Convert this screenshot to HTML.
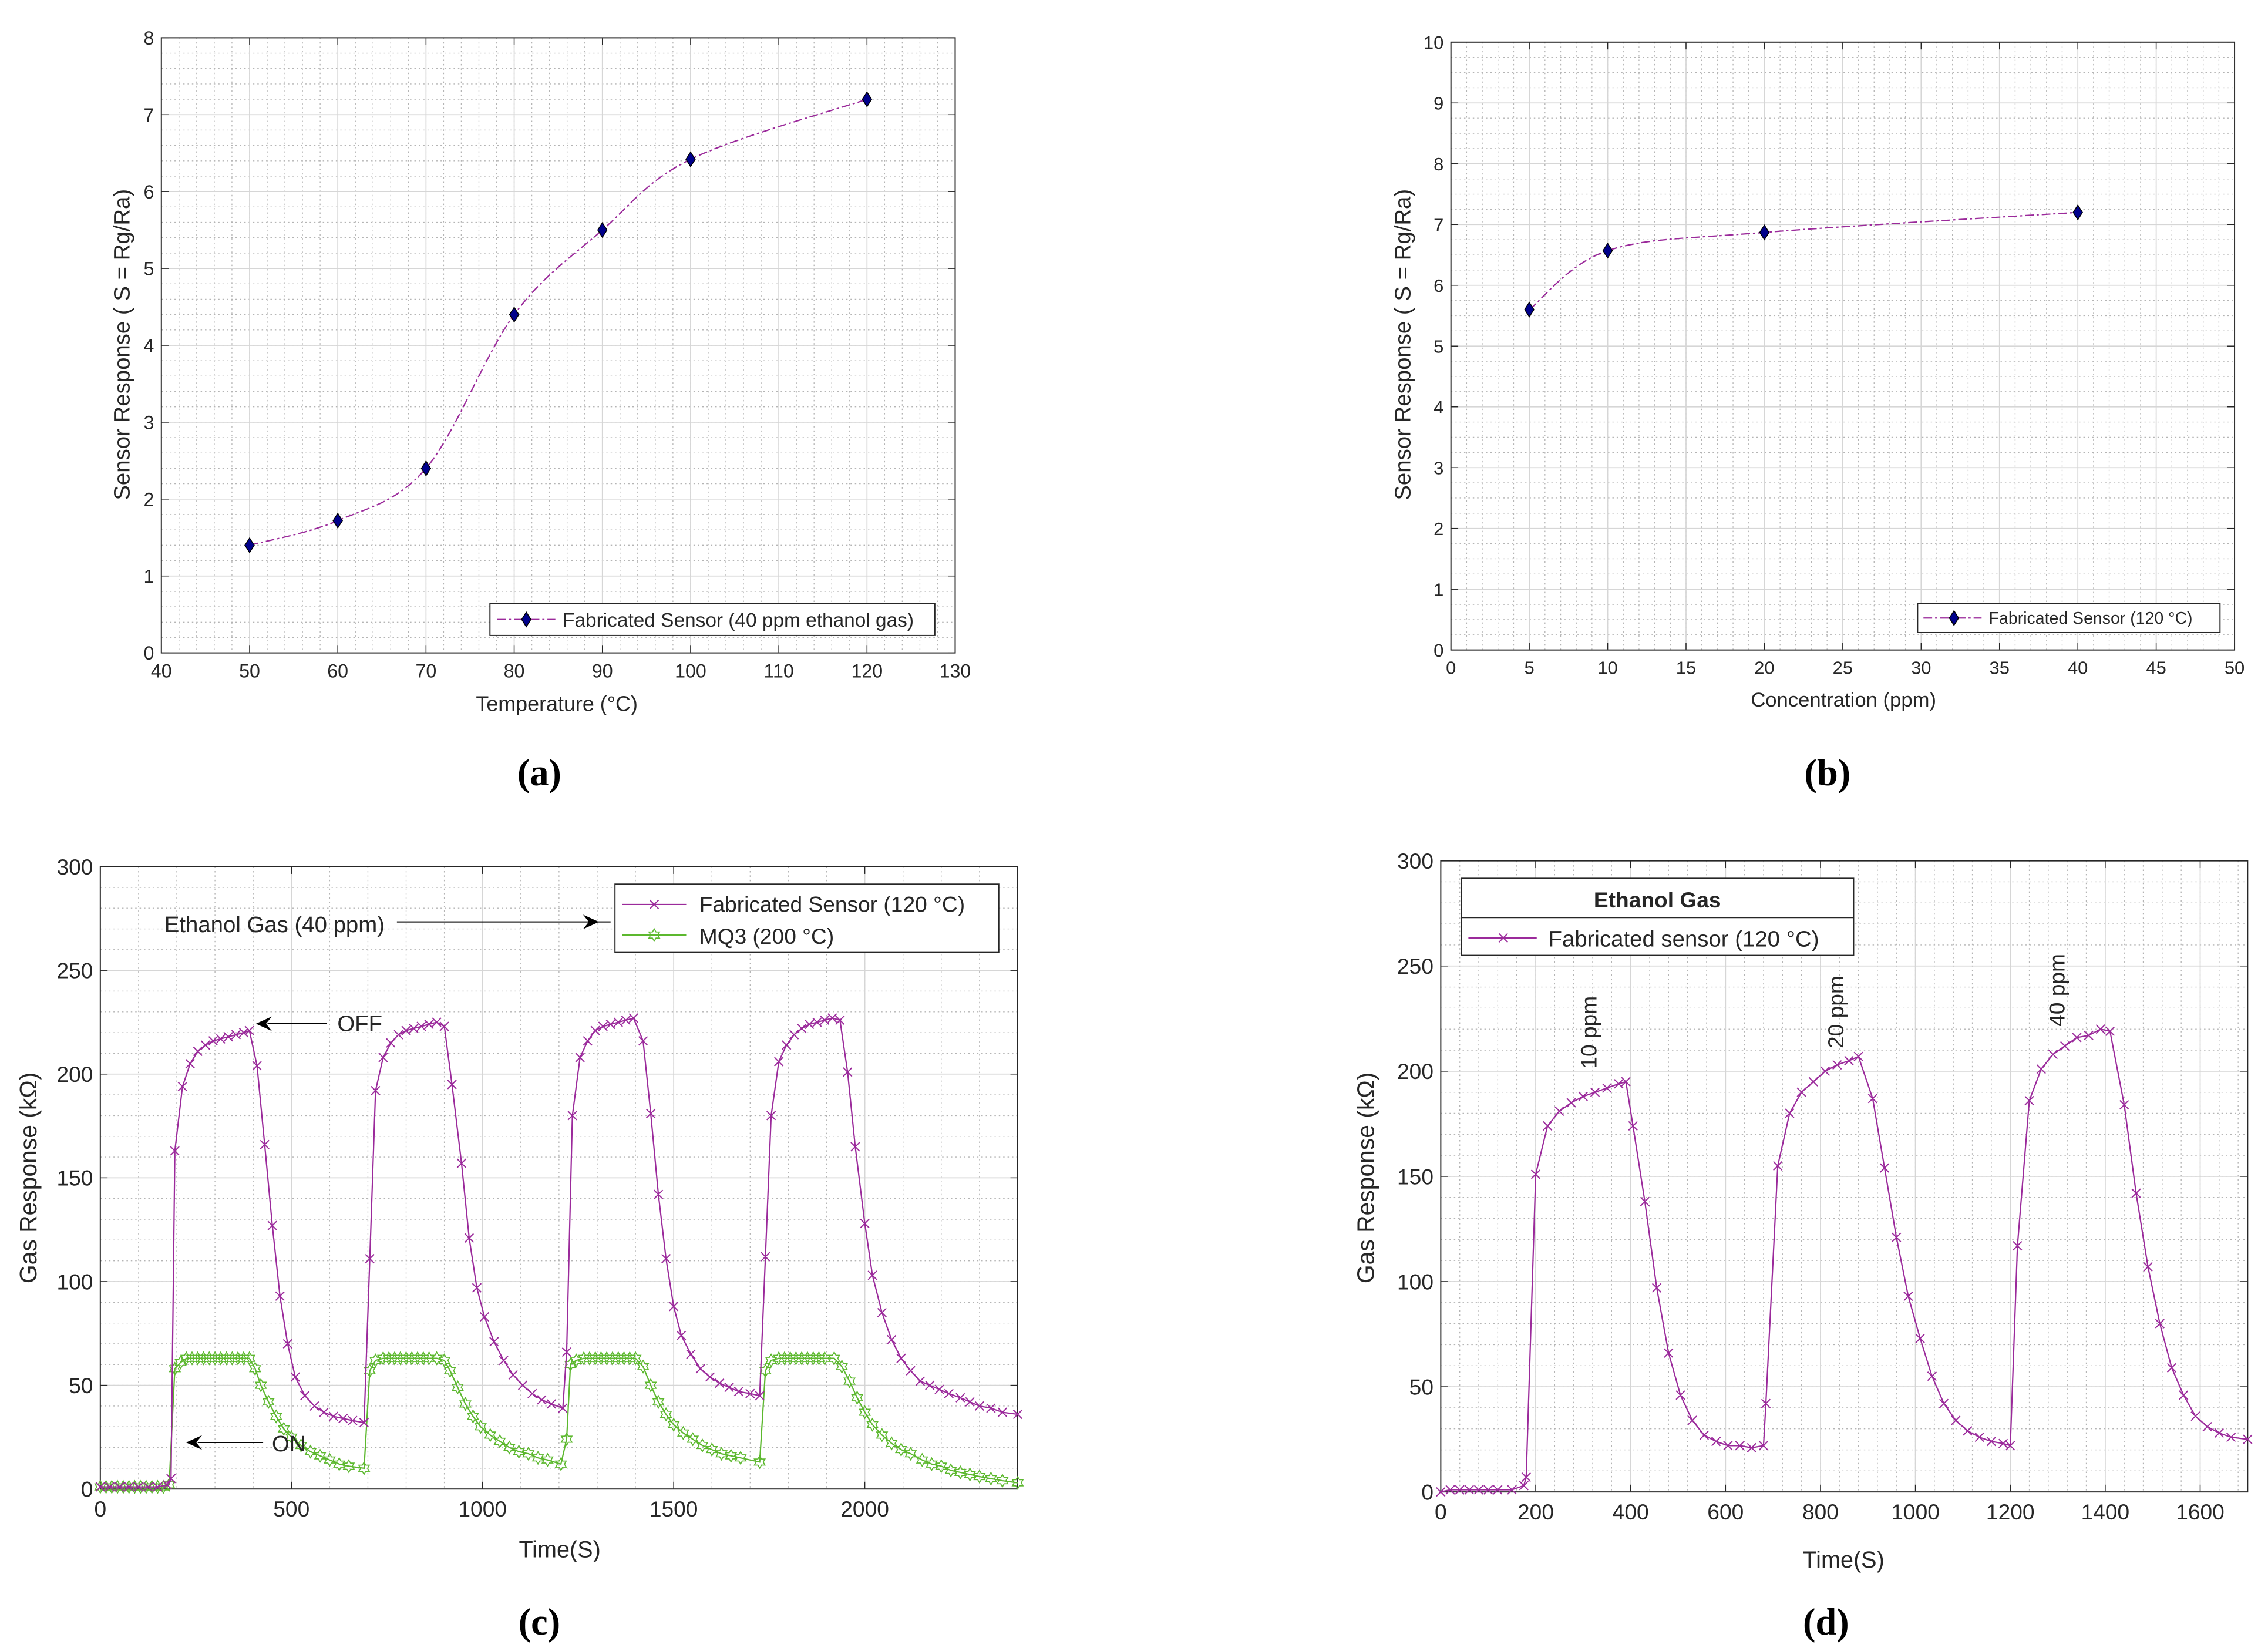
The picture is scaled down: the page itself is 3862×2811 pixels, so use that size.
<!DOCTYPE html>
<html><head><meta charset="utf-8">
<style>
html,body{margin:0;padding:0;background:#fff;}
svg{display:block;}
text{font-family:"Liberation Sans Narrow","Liberation Sans",sans-serif;fill:#262626;}
.lab{font-family:"Liberation Sans",sans-serif;}
.cap{font-family:"Liberation Serif",serif;font-weight:bold;fill:#000;}
</style></head>
<body>
<svg id="fig" width="3862" height="2811" viewBox="0 0 1560 1135.4" preserveAspectRatio="none" xmlns="http://www.w3.org/2000/svg">
<rect x="0" y="0" width="1560" height="1136" fill="#fff"/>
</svg>
<script>
// ---- data (a) ----
const aTemp=[50,60,70,80,90,100,120];
const aResp=[1.4,1.72,2.4,4.4,5.5,6.42,7.2];
// ---- data (b) ----
const bConc=[5,10,20,40];
const bResp=[5.6,6.57,6.87,7.2];
// ---- data (c) fabricated ----
const cFabT=[0,25,50,75,100,125,150,175,185,195,215,235,255,275,295,315,335,355,375,390,410,430,450,470,490,510,535,560,585,610,635,660,690,
705,720,740,760,780,800,820,840,860,880,900,920,945,965,985,1005,1030,1055,1080,1105,1130,1155,1180,1210,
1220,1235,1255,1275,1295,1315,1335,1355,1375,1395,1420,1440,1460,1480,1500,1520,1545,1570,1595,1620,1645,1670,1700,1725,
1740,1755,1775,1795,1815,1835,1855,1875,1895,1915,1935,1955,1975,2000,2020,2045,2070,2095,2120,2145,2170,2195,2220,2250,2275,2300,2330,2360,2400];
const cFabV=[1,1,1,1,1,1,1,2,5,163,194,205,211,214,216,217,218,219,220,221,204,166,127,93,70,54,45,40,37,35,34,33,32,
111,192,208,215,219,221,222,223,224,225,223,195,157,121,97,83,71,62,55,50,46,43,41,39,
66,180,208,216,221,223,224,225,226,227,216,181,142,111,88,74,65,58,54,51,49,47,46,45,
112,180,206,214,219,222,224,225,226,227,226,201,165,128,103,85,72,63,57,52,50,48,46,44,42,40,39,37,36];
// ---- data (c) MQ3 ----
const cMqT=[0,15,30,45,60,75,90,105,120,135,150,165,180,195,210,225,240,255,270,285,300,315,330,345,360,375,390,405,420,440,460,480,500,525,550,575,600,625,650,690,
705,720,740,755,770,785,800,815,830,845,860,880,900,915,935,955,975,995,1020,1045,1070,1095,1120,1145,1170,1205,
1220,1230,1245,1265,1280,1295,1310,1325,1340,1355,1370,1385,1400,1420,1440,1460,1480,1500,1525,1550,1575,1600,1625,1650,1675,1725,
1740,1755,1775,1790,1805,1820,1835,1850,1865,1880,1895,1920,1940,1960,1980,2000,2020,2045,2070,2095,2120,2150,2175,2200,2225,2250,2275,2300,2330,2360,2400];
const cMqV=[1,1,1,1,1,1,1,1,1,1,1,1,2,58,61,63,63,63,63,63,63,63,63,63,63,63,63,58,50,42,35,29,25,21,18,16,14,12,11,10,
57,62,63,63,63,63,63,63,63,63,63,63,62,57,49,41,35,30,26,23,20,18,17,15,14,12,
24,60,62,63,63,63,63,63,63,63,63,63,63,59,50,42,36,31,27,24,21,19,17,16,15,13,
57,62,63,63,63,63,63,63,63,63,63,63,59,52,44,37,31,26,22,19,17,14,12,11,9,8,7,6,5,4,3];
// ---- data (d) ----
const dT=[0,20,40,60,80,100,120,150,175,180,200,225,250,275,300,325,350,375,390,405,430,455,480,505,530,555,580,605,630,655,680,685,710,735,760,785,810,835,860,880,910,935,960,985,1010,1035,1060,1085,1110,1135,1160,1185,1200,1215,1240,1265,1290,1315,1340,1365,1390,1410,1440,1465,1490,1515,1540,1565,1590,1615,1640,1665,1700];
const dV=[0,1,1,1,1,1,1,1,3,7,151,174,181,185,188,190,192,194,195,174,138,97,66,46,34,27,24,22,22,21,22,42,155,180,190,195,200,203,205,207,187,154,121,93,73,55,42,34,29,26,24,23,22,117,186,201,208,212,216,217,220,219,184,142,107,80,59,46,36,31,28,26,25];
// ---- tick labels ----
const aXTicks=[40,50,60,70,80,90,100,110,120,130];
const aYTicks=[0,1,2,3,4,5,6,7,8];
const bXTicks=[0,5,10,15,20,25,30,35,40,45,50];
const bYTicks=[0,1,2,3,4,5,6,7,8,9,10];
const cXTicks=[0,500,1000,1500,2000];
const cYTicks=[0,50,100,150,200,250,300];
const dXTicks=[0,200,400,600,800,1000,1200,1400,1600];
const dYTicks=[0,50,100,150,200,250,300];

const NS='http://www.w3.org/2000/svg';
const svg=document.getElementById('fig');
function mk(tag,attrs,parent){const e=document.createElementNS(NS,tag);for(const k in attrs)e.setAttribute(k,attrs[k]);(parent||svg).appendChild(e);return e;}

function axes(p,name){
  const g=mk('g',{});
  
  
  const sx=v=>p.x0+(v-p.xmin)/(p.xmax-p.xmin)*(p.x1-p.x0);
  const sy=v=>p.y1-(v-p.ymin)/(p.ymax-p.ymin)*(p.y1-p.y0);
  for(let v=p.xmin;v<=p.xmax+1e-9;v+=p.xm){const l=mk('line',{x1:sx(v),x2:sx(v),y1:p.y0,y2:p.y1,stroke:'#b4b4b4','stroke-width':0.55,'stroke-dasharray':'1 2'},g);}
  for(let v=p.ymin;v<=p.ymax+1e-9;v+=p.ym){const l=mk('line',{x1:p.x0,x2:p.x1,y1:sy(v),y2:sy(v),stroke:'#b4b4b4','stroke-width':0.55,'stroke-dasharray':'1 2'},g);}
  p.xt.forEach(v=>{const l=mk('line',{x1:sx(v),x2:sx(v),y1:p.y0,y2:p.y1,stroke:'#d6d6d6','stroke-width':0.7},g);
    const t1=mk('line',{x1:sx(v),x2:sx(v),y1:p.y1,y2:p.y1-5,stroke:'#262626','stroke-width':0.6},g);
    const t2=mk('line',{x1:sx(v),x2:sx(v),y1:p.y0,y2:p.y0+5,stroke:'#262626','stroke-width':0.6},g);
    const tx=mk('text',{x:sx(v),y:p.y1+p.fs+4,'font-size':p.fs,'text-anchor':'middle'},g);tx.textContent=v;});
  p.yt.forEach(v=>{const l=mk('line',{x1:p.x0,x2:p.x1,y1:sy(v),y2:sy(v),stroke:'#d6d6d6','stroke-width':0.7},g);
    const t1=mk('line',{x1:p.x0,x2:p.x0+5,y1:sy(v),y2:sy(v),stroke:'#262626','stroke-width':0.6},g);
    const t2=mk('line',{x1:p.x1,x2:p.x1-5,y1:sy(v),y2:sy(v),stroke:'#262626','stroke-width':0.6},g);
    const ty=mk('text',{x:p.x0-5,y:sy(v)+p.fs*0.36,'font-size':p.fs,'text-anchor':'end'},g);ty.textContent=v;});
  const b=mk('rect',{x:p.x0,y:p.y0,width:p.x1-p.x0,height:p.y1-p.y0,fill:'none',stroke:'#262626','stroke-width':0.8},g);
  
  return {sx,sy,g};
}
function smoothPath(pts){let d='M'+pts[0][0]+','+pts[0][1];
  for(let i=0;i<pts.length-1;i++){const p0=pts[i-1]||pts[i],p1=pts[i],p2=pts[i+1],p3=pts[i+2]||p2;
    d+=' C'+(p1[0]+(p2[0]-p0[0])/6)+','+(p1[1]+(p2[1]-p0[1])/6)+' '+(p2[0]-(p3[0]-p1[0])/6)+','+(p2[1]-(p3[1]-p1[1])/6)+' '+p2[0]+','+p2[1];}
  return d;}
function diamond(x,y,parent){return mk('polygon',{points:`${x},${y-5} ${x+3.2},${y} ${x},${y+5} ${x-3.2},${y}`,fill:'#00008b',stroke:'#000','stroke-width':0.6},parent);}
function xmark(x,y,col,parent){const s=3;return mk('path',{d:`M${x-s},${y-s}L${x+s},${y+s}M${x-s},${y+s}L${x+s},${y-s}`,stroke:col,'stroke-width':0.8,fill:'none'},parent);}
function star(x,y,col,parent){const r=4.2;let pts=[];for(let i=0;i<12;i++){const rr=i%2?r*0.58:r;const a=-Math.PI/2+i*Math.PI/6;pts.push((x+rr*Math.cos(a)).toFixed(2)+','+(y+rr*Math.sin(a)).toFixed(2));}
  return mk('polygon',{points:pts.join(' '),fill:'none',stroke:col,'stroke-width':0.7},parent);}
function txt(x,y,s,fs,attrs,name){const t=mk('text',Object.assign({x:x,y:y,'font-size':fs},attrs||{}));t.textContent=s;return t;}

const PURP='#9b2a9b', GREEN='#5cb82e';

// ===== Panel (a) =====
{const A=axes({x0:111,x1:657,y0:26,y1:449,xmin:40,xmax:130,ymin:0,ymax:8,xt:aXTicks,yt:aYTicks,xm:2,ym:0.2,fs:13},'panel-a-axes');
 const pts=aTemp.map((v,i)=>[A.sx(v),A.sy(aResp[i])]);
 const ln=mk('path',{d:smoothPath(pts),fill:'none',stroke:PURP,'stroke-width':0.9,'stroke-dasharray':'6 2 1.5 2'});
 
 pts.forEach(p=>{const m=diamond(p[0],p[1]);});
 const lg=mk('rect',{x:337,y:415,width:306,height:22,fill:'#fff',stroke:'#262626','stroke-width':0.8});
 
 const ll=mk('line',{x1:342,x2:382,y1:426,y2:426,stroke:PURP,'stroke-width':0.9,'stroke-dasharray':'6 2 1.5 2'});
 const lm=diamond(362,426);
 txt(387,431,'Fabricated Sensor (40 ppm ethanol gas)',13.5,{},'legend-a-label');
 txt(383,489,'Temperature (°C)',14.5,{'text-anchor':'middle'},'x-axis-title-a');
 txt(0,0,'Sensor Response ( S = Rg/Ra)',15.5,{'text-anchor':'middle',transform:'translate(89,237) rotate(-90)',class:'lab'},'y-axis-title-a');
 txt(371,540,'(a)',26,{'text-anchor':'middle',class:'cap'},'caption-a');}

// ===== Panel (b) =====
{const B=axes({x0:998,x1:1537,y0:29,y1:447,xmin:0,xmax:50,ymin:0,ymax:10,xt:bXTicks,yt:bYTicks,xm:1,ym:0.25,fs:12.5},'panel-b-axes');
 const pts=bConc.map((v,i)=>[B.sx(v),B.sy(bResp[i])]);
 const ln=mk('path',{d:smoothPath(pts),fill:'none',stroke:PURP,'stroke-width':0.9,'stroke-dasharray':'6 2 1.5 2'});
 
 pts.forEach(p=>{const m=diamond(p[0],p[1]);});
 const lg=mk('rect',{x:1319,y:415,width:208,height:20,fill:'#fff',stroke:'#262626','stroke-width':0.8});
 
 const ll=mk('line',{x1:1323,x2:1363,y1:425,y2:425,stroke:PURP,'stroke-width':0.9,'stroke-dasharray':'6 2 1.5 2'});
 const lm=diamond(1344,425);
 txt(1368,429,'Fabricated Sensor (120 °C)',11.5,{},'legend-b-label');
 txt(1268,486,'Concentration (ppm)',14,{'text-anchor':'middle'},'x-axis-title-b');
 txt(0,0,'Sensor Response ( S = Rg/Ra)',15.5,{'text-anchor':'middle',transform:'translate(970,237) rotate(-90)',class:'lab'},'y-axis-title-b');
 txt(1257,540,'(b)',26,{'text-anchor':'middle',class:'cap'},'caption-b');}

// ===== Panel (c) =====
{const C=axes({x0:69,x1:700,y0:596,y1:1024,xmin:0,xmax:2400,ymin:0,ymax:300,xt:cXTicks,yt:cYTicks,xm:100,ym:10,fs:15},'panel-c-axes');
 const mq=mk('polyline',{points:cMqT.map((t,i)=>C.sx(t)+','+C.sy(cMqV[i])).join(' '),fill:'none',stroke:GREEN,'stroke-width':0.9});
 
 cMqT.forEach((t,i)=>{const m=star(C.sx(t),C.sy(cMqV[i]),GREEN);});
 const fb=mk('polyline',{points:cFabT.map((t,i)=>C.sx(t)+','+C.sy(cFabV[i])).join(' '),fill:'none',stroke:PURP,'stroke-width':0.9});
 
 cFabT.forEach((t,i)=>{const m=xmark(C.sx(t),C.sy(cFabV[i]),PURP);});
 const lg=mk('rect',{x:423,y:608,width:264,height:47,fill:'#fff',stroke:'#262626','stroke-width':0.8});
 
 const l1=mk('line',{x1:428,x2:472,y1:622,y2:622,stroke:PURP,'stroke-width':0.9});
 const m1=xmark(450,622,PURP);
 txt(481,627,'Fabricated Sensor (120 °C)',15,{},'legend-c-label-1');
 const l2=mk('line',{x1:428,x2:472,y1:643,y2:643,stroke:GREEN,'stroke-width':0.9});
 const m2=star(450,643,GREEN);
 txt(481,649,'MQ3  (200 °C)',15,{},'legend-c-label-2');
 txt(113,641,'Ethanol Gas (40 ppm)',15.5,{},'annotation-ethanol');
 function arrow(x1,y,x2,name){const a=mk('line',{x1:x1,x2:x2+8,y1:y,y2:y,stroke:'#000','stroke-width':0.8});
   const dir=x2>x1?-1:1;const h=mk('polygon',{points:`${x2},${y} ${x2+dir*11},${y-5} ${x2+dir*7},${y} ${x2+dir*11},${y+5}`,fill:'#000'});}
 arrow(273,634,412,'arrow-ethanol');
 arrow(225,704,176,'arrow-off');
 txt(232,709,'OFF',15.5,{},'annotation-off');
 arrow(181,992,128,'arrow-on');
 txt(187,998,'ON',15.5,{},'annotation-on');
 txt(385,1071,'Time(S)',16,{'text-anchor':'middle'},'x-axis-title-c');
 txt(0,0,'Gas Response (kΩ)',16.5,{'text-anchor':'middle',transform:'translate(25,810) rotate(-90)',class:'lab'},'y-axis-title-c');
 txt(371,1124,'(c)',26,{'text-anchor':'middle',class:'cap'},'caption-c');}

// ===== Panel (d) =====
{const D=axes({x0:991,x1:1546,y0:592,y1:1026,xmin:0,xmax:1700,ymin:0,ymax:300,xt:dXTicks,yt:dYTicks,xm:40,ym:10,fs:15},'panel-d-axes');
 const fb=mk('polyline',{points:dT.map((t,i)=>D.sx(t)+','+D.sy(dV[i])).join(' '),fill:'none',stroke:PURP,'stroke-width':0.9});
 
 dT.forEach((t,i)=>{const m=xmark(D.sx(t),D.sy(dV[i]),PURP);});
 const lg=mk('rect',{x:1005,y:604,width:270,height:53,fill:'#fff',stroke:'#262626','stroke-width':0.8});
 
 const dv=mk('line',{x1:1005,x2:1275,y1:631,y2:631,stroke:'#262626','stroke-width':0.8});
 txt(1140,624,'Ethanol Gas',15,{'text-anchor':'middle','font-weight':'bold',class:'lab'},'legend-d-title');
 const l1=mk('line',{x1:1010,x2:1057,y1:645,y2:645,stroke:PURP,'stroke-width':0.9});
 const m1=xmark(1034,645,PURP);
 txt(1065,651,'Fabricated sensor (120 °C)',15.5,{},'legend-d-label');
 txt(0,0,'10 ppm',15,{transform:'translate(1098,735) rotate(-90)',class:'lab'},'annotation-10ppm');
 txt(0,0,'20 ppm',15,{transform:'translate(1268,721) rotate(-90)',class:'lab'},'annotation-20ppm');
 txt(0,0,'40 ppm',15,{transform:'translate(1420,706) rotate(-90)',class:'lab'},'annotation-40ppm');
 txt(1268,1078,'Time(S)',16,{'text-anchor':'middle'},'x-axis-title-d');
 txt(0,0,'Gas Response (kΩ)',16.5,{'text-anchor':'middle',transform:'translate(945,810) rotate(-90)',class:'lab'},'y-axis-title-d');
 txt(1256,1124,'(d)',26,{'text-anchor':'middle',class:'cap'},'caption-d');}
</script>
</body></html>
